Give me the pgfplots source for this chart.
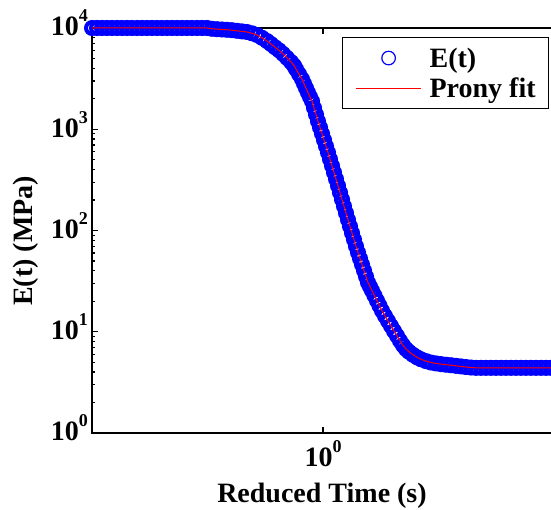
\documentclass[border=0pt]{standalone}
\usepackage{pgfplots}
\pgfplotsset{compat=1.18}
\usepackage{pgfplotstable}
\usepackage{fontspec}
\setmainfont{Liberation Serif}
\newcommand{\tl}[1]{10\raisebox{14pt}{\fontsize{18}{18}\selectfont #1}}
\newcommand{\bigf}{\fontsize{28}{32}\selectfont\bfseries}

\pgfplotstableread{
t E
0.2646 10000
0.2723 10000
0.2802 10000
0.2884 10000
0.2968 10000
0.3055 10000
0.3144 10000
0.3236 10000
0.3330 10000
0.3428 10000
0.3528 10000
0.3631 10000
0.3737 10000
0.3846 10000
0.3958 10000
0.4074 10000
0.4193 10000
0.4315 10000
0.4441 10000
0.4571 10000
0.4704 10000
0.4842 10000
0.4983 10000
0.5129 10000
0.5278 9819
0.5433 9730
0.5591 9664
0.5754 9598
0.5922 9511
0.6095 9382
0.6273 9255
0.6457 9129
0.6645 8860
0.6839 8526
0.7039 7998
0.7244 7435
0.7413 6943
0.7586 6455
0.7762 6029
0.7943 5554
0.8128 5070
0.8318 4618
0.8462 4253
0.8560 3927
0.8710 3503
0.8861 3126
0.8964 2822
0.9068 2547
0.9173 2298
0.9279 2083
0.9386 1894
0.9495 1625
0.9605 1399
0.9716 1200
0.9829 1042
0.9943 904.6
1.0058 783.5
1.0174 680.0
1.0292 587.9
1.0411 505.8
1.0532 435.2
1.0654 374.4
1.0777 322.1
1.0902 276.4
1.1028 236.7
1.1156 202.7
1.1285 173.6
1.1416 148.7
1.1548 127.6
1.1682 109.8
1.1817 94.47
1.1954 81.26
1.2092 69.89
1.2232 60.56
1.2374 52.82
1.2517 46.07
1.2662 40.18
1.2809 35.04
1.2957 30.56
1.3107 27.89
1.3259 25.47
1.3451 22.72
1.3646 20.27
1.3843 18.09
1.4043 16.14
1.4289 14.31
1.4538 12.76
1.4791 11.39
1.5049 10.16
1.5311 9.129
1.5577 8.145
1.5849 7.349
1.6125 6.742
1.6406 6.339
1.6788 5.920
1.7179 5.592
1.7579 5.343
1.8093 5.128
1.8621 4.967
1.9165 4.866
1.9724 4.789
2.0300 4.724
2.0893 4.670
2.1503 4.607
2.2131 4.544
2.2777 4.482
2.3442 4.431
2.4127 4.401
2.4831 4.40
2.5556 4.40
2.6303 4.40
2.7071 4.40
2.7861 4.40
2.8675 4.40
2.9512 4.40
3.0374 4.40
3.1261 4.40
3.2174 4.40
3.3113 4.40
3.4080 4.40
3.5075 4.40
3.6099 4.40
3.7154 4.40
3.8239 4.40
3.9355 4.40
4.0505 4.40
4.1687 4.40
4.2905 4.40
}\datatable

\begin{document}
\begin{tikzpicture}
\useasboundingbox (0,0) rectangle (551pt,510pt);
\clip (0,0) rectangle (551pt,510pt);
\begin{axis}[
  at={(92pt,77pt)}, anchor=south west,
  scale only axis, width=488pt, height=405pt,
  xmode=log, ymode=log,
  xmin=0.26455, xmax=4.3902, ymin=1, ymax=10000,
  clip=false, clip marker paths=true,
  xtick={1}, xticklabels={\tl{0}}, minor xtick={}, xminorticks=false,
  ytick={1,10,100,1000,10000},
  yticklabels={\tl{0},\tl{1},\tl{2},\tl{3},\tl{4}},
  tick align=inside,
  major tick length=6pt, minor tick length=3.5pt,
  every tick/.style={black, line width=1.2pt},
  axis line style={line width=1.5pt},
  ticklabel style={font=\bigf},
  yticklabel style={anchor=base east, inner sep=0pt, xshift=-4pt, yshift=-8pt},
  xticklabel style={anchor=north, inner sep=0pt, yshift=-7pt},
  xlabel={Reduced Time (s)},
  ylabel={E(t) (MPa)},
  label style={font=\bigf},
  xlabel style={at={(axis description cs:0.4713,0)}, anchor=base, yshift=-70pt, inner sep=0pt},
  ylabel style={at={(axis description cs:-0.1352,0.474)}, anchor=center, rotate=0, inner sep=0pt},
  legend image code/.code={\draw[mark repeat=2,mark phase=2,#1,mark size=6.8pt,mark options={line width=1.2pt}] plot coordinates {(0pt,0pt) (32.5pt,0pt) (65pt,0pt)};},
  legend cell align=left,
  legend style={at={(0.5123,0.9778)}, anchor=north west, draw=black, line width=1.2pt,
    font=\bigf, inner xsep=13pt, inner ysep=10pt, row sep=9pt, column sep=8pt,
    nodes={inner sep=0pt}},
]
\addplot[only marks, mark=o, color=blue, mark size=6pt, mark options={line width=4pt}] table[x=t, y=E] {\datatable};
\addlegendentry{E(t)}
\addplot[no marks, color=red, line width=1pt] table[x=t, y=E] {\datatable};
\addlegendentry{Prony fit}
\end{axis}
\end{tikzpicture}
\end{document}
